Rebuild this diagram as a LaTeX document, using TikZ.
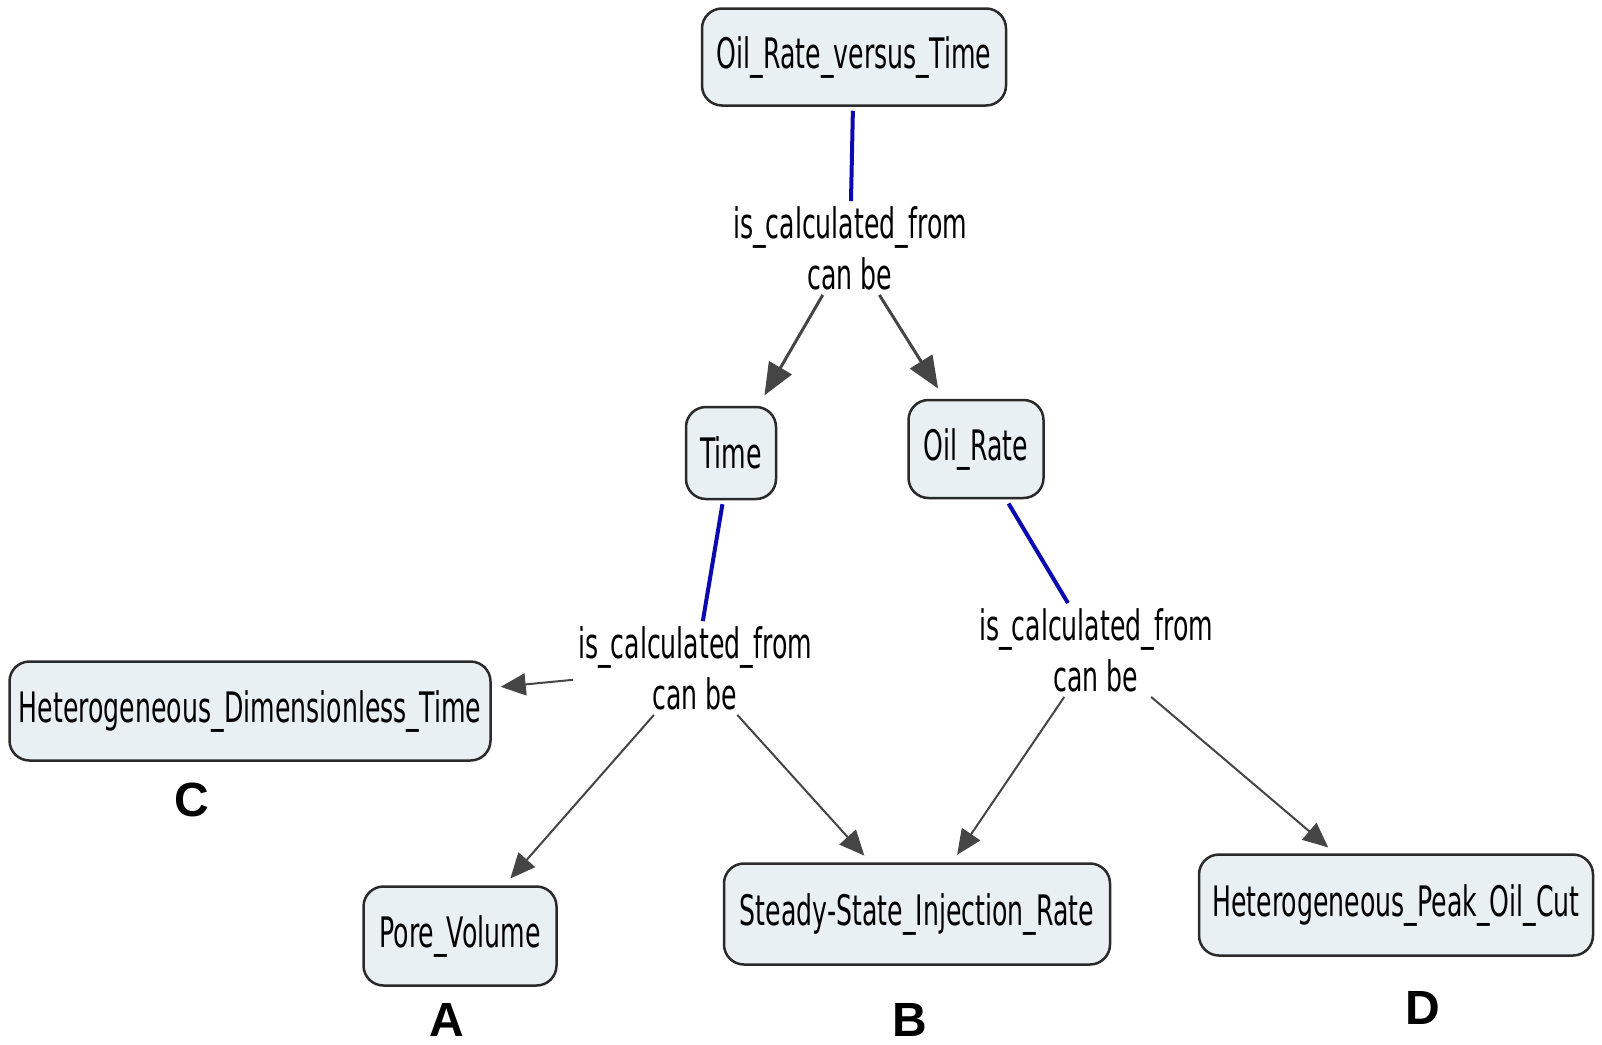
\documentclass[tikz,border=0pt]{standalone}
\usepackage{fontspec}
\usetikzlibrary{arrows.meta}
\newfontfamily\conceptfont[FakeStretch=0.6]{DejaVu Sans}
\newfontfamily\tagfont{Liberation Sans}
\definecolor{conceptfill}{HTML}{E8F0F3}
\definecolor{conceptedge}{HTML}{2A2A2A}
\definecolor{linkblue}{HTML}{0A0AB0}
\definecolor{arrowgray}{HTML}{454545}
\begin{document}
\begin{tikzpicture}[x=1pt,y=-1pt,
  concept/.style={draw=conceptedge, line width=2.5pt, fill=conceptfill,
    rounded corners=20pt, inner sep=0pt, align=center,
    font=\conceptfont\fontsize{42}{51}\selectfont},
  phrase/.style={inner sep=5pt, align=center,
    font=\conceptfont\fontsize{42}{51}\selectfont},
  tag/.style={font=\tagfont\bfseries\fontsize{48}{56}\selectfont, inner sep=1pt},
  joinline/.style={draw=linkblue, line width=4pt},
  bigarrow/.style={draw=arrowgray, line width=3pt,
    -{Triangle[length=32pt,width=26pt]}, shorten >=12pt},
  smallarrow/.style={draw=arrowgray, line width=2pt,
    -{Triangle[length=25pt,width=22pt]}, shorten >=9pt}]
\useasboundingbox (0,0) rectangle (1602,1044);

% concepts
\node[concept, minimum width=304pt, minimum height=97pt] (ort) at (854,57) {Oil\_Rate\_versus\_Time};
\node[concept, minimum width=90pt, minimum height=92pt] (time) at (731,453) {Time};
\node[concept, minimum width=135pt, minimum height=98pt] (oilrate) at (976,449) {Oil\_Rate};
\node[concept, minimum width=481pt, minimum height=99pt] (hdt) at (250,711) {Heterogeneous\_Dimensionless\_Time};
\node[concept, minimum width=193pt, minimum height=99pt] (pore) at (460,936) {Pore\_Volume};
\node[concept, minimum width=386pt, minimum height=101pt] (ssir) at (917,914) {Steady-State\_Injection\_Rate};
\node[concept, minimum width=394pt, minimum height=101pt] (hpoc) at (1396,905) {Heterogeneous\_Peak\_Oil\_Cut};

% linking phrases
\node[phrase] (p1) at (850,248) {is\_calculated\_from\\can be};
\node[phrase] (p2) at (695,668) {is\_calculated\_from\\can be};
\node[phrase] (p3) at (1096,650) {is\_calculated\_from\\can be};

% letter tags
\node[tag] (tagC) at (192,800) {C};
\node[tag] (tagA) at (447,1020) {A};
\node[tag] (tagB) at (910,1020) {B};
\node[tag] (tagD) at (1423,1008) {D};

% links into phrases
\draw[joinline, shorten <=4pt] (ort) -- (p1);
\draw[joinline, shorten <=4pt] (time) -- (p2);
\draw[joinline, shorten <=5pt] (oilrate) -- (p3);

% phrase targets
\draw[bigarrow] (p1) -- (time);
\draw[bigarrow] (p1) -- (oilrate);
\draw[smallarrow] (p2) -- (hdt);
\draw[smallarrow] (p2) -- (pore);
\draw[smallarrow] (p2) -- (ssir);
\draw[smallarrow] (p3) -- (ssir);
\draw[smallarrow] (p3) -- (hpoc);
\end{tikzpicture}
\end{document}
